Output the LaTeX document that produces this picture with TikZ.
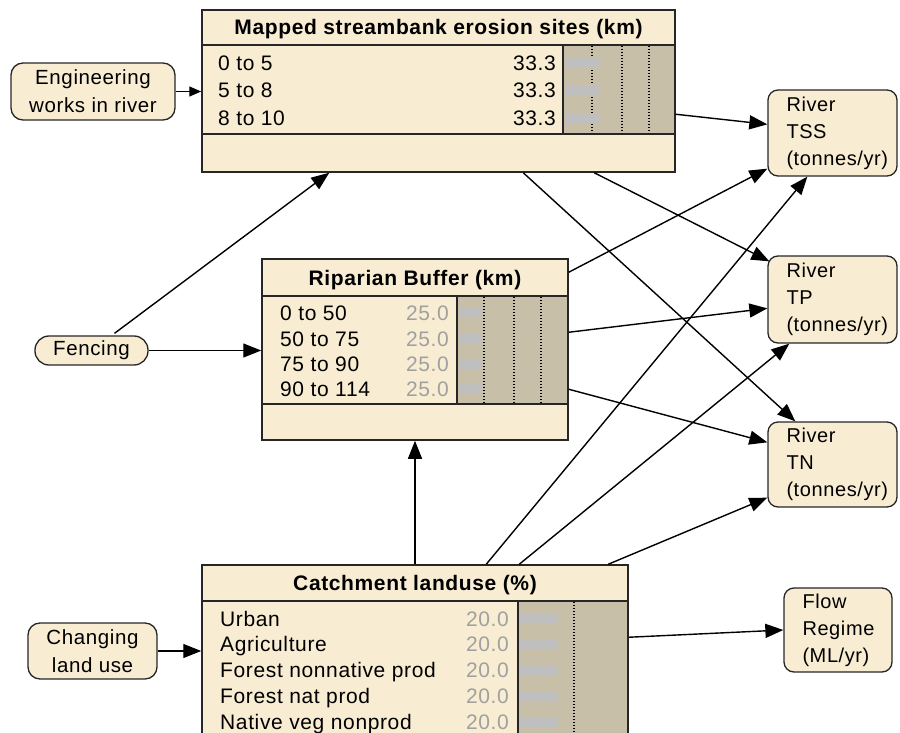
\documentclass[tikz,border=0pt]{standalone}
\usepackage{fontspec}
\setmainfont{Liberation Sans}[LetterSpace=3]
\usetikzlibrary{arrows.meta,calc,positioning}
\definecolor{nodefill}{HTML}{F8EDD3}
\definecolor{barbg}{HTML}{C8BFA8}
\definecolor{barfg}{HTML}{BFBFBF}
\definecolor{valgrey}{HTML}{A0A0A0}
\definecolor{edge}{HTML}{262626}
\tikzset{
  tablebox/.style={draw=edge, line width=1.5pt, fill=nodefill, inner sep=0pt},
  rowline/.style={draw=edge, line width=2pt},
  gridline/.style={draw=black, line width=1.4pt, dash pattern=on 1.4pt off 1.6pt},
  titletext/.style={inner sep=0pt, text height=15pt, text depth=0pt, font=\fontsize{21}{25}\selectfont\bfseries},
  rowtext/.style={inner sep=0pt, text height=15pt, text depth=0pt, font=\fontsize{21}{25}\selectfont},
  rowval/.style={rowtext, text=valgrey},
  leafnode/.style={draw=edge, line width=1.3pt, fill=nodefill, rounded corners=10pt,
    align=left, text width=92pt, inner xsep=18.5pt, font=\fontsize{20}{27}\selectfont},
  sourcenode/.style={draw=edge, line width=1.3pt, fill=nodefill, rounded corners=12pt,
    align=center, font=\fontsize{20.5}{28}\selectfont},
  link/.style={draw=black, line width=1.4pt, -{Triangle[length=18pt,width=14pt]}},
}
\begin{document}
\begin{tikzpicture}[x=1pt, y=-1pt]
  \useasboundingbox (0,0) rectangle (900,733);
  \clip (0,0) rectangle (900,733);
  % tables
  \node[tablebox, minimum width=473pt, minimum height=162pt] (mapped) at (438.5,91) {};
  \node[tablebox, minimum width=306pt, minimum height=181pt] (buffer) at (415,349.5) {};
  \node[tablebox, minimum width=426pt, minimum height=190pt] (landuse) at (415,660) {};

  % mapped streambank erosion sites
  \draw[rowline] (202,45) -- (676,45);
  \draw[rowline] (202,134) -- (676,134);
  \draw[rowline, fill=barbg] (563,45) rectangle (675,134);
  \draw[gridline] (592,46) -- (592,133);
  \draw[gridline] (622,46) -- (622,133);
  \draw[gridline] (649,46) -- (649,133);
  \fill[barfg] (565,58) rectangle (599,68);
  \fill[barfg] (565,85) rectangle (599,95);
  \fill[barfg] (565,113) rectangle (599,123);
  \node[titletext] (mtitle) at (438.5,27.5) {Mapped streambank erosion sites (km)};
  \node[rowtext, anchor=west] (m1) at (218,63) {0 to 5};
  \node[rowtext, anchor=west] (m2) at (218,90) {5 to 8};
  \node[rowtext, anchor=west] (m3) at (218,118) {8 to 10};
  \node[rowtext, anchor=east] (mv1) at (556,63) {33.3};
  \node[rowtext, anchor=east] (mv2) at (556,90) {33.3};
  \node[rowtext, anchor=east] (mv3) at (556,118) {33.3};

  % riparian buffer
  \draw[rowline] (262,296) -- (569,296);
  \draw[rowline] (262,404) -- (569,404);
  \draw[rowline, fill=barbg] (457,296) rectangle (568,404);
  \draw[gridline] (484,297) -- (484,403);
  \draw[gridline] (514,297) -- (514,403);
  \draw[gridline] (541,297) -- (541,403);
  \fill[barfg] (459,308) rectangle (482,318);
  \fill[barfg] (459,334) rectangle (482,344);
  \fill[barfg] (459,359) rectangle (482,369);
  \fill[barfg] (459,384) rectangle (482,394);
  \node[titletext] (btitle) at (415,277.5) {Riparian Buffer (km)};
  \node[rowtext, anchor=west] (b1) at (280,313) {0 to 50};
  \node[rowtext, anchor=west] (b2) at (280,339) {50 to 75};
  \node[rowtext, anchor=west] (b3) at (280,364) {75 to 90};
  \node[rowtext, anchor=west] (b4) at (280,389) {90 to 114};
  \node[rowval, anchor=east] (bv1) at (449,313) {25.0};
  \node[rowval, anchor=east] (bv2) at (449,339) {25.0};
  \node[rowval, anchor=east] (bv3) at (449,364) {25.0};
  \node[rowval, anchor=east] (bv4) at (449,389) {25.0};

  % catchment landuse
  \draw[rowline] (202,601) -- (629,601);
  \draw[rowline, fill=barbg] (518,601) rectangle (628,760);
  \draw[gridline] (574,602) -- (574,760);
  \fill[barfg] (520,614) rectangle (558,624);
  \fill[barfg] (520,639) rectangle (558,649);
  \fill[barfg] (520,665) rectangle (558,675);
  \fill[barfg] (520,691) rectangle (558,701);
  \fill[barfg] (520,717) rectangle (558,727);
  \node[titletext] (ltitle) at (415,583) {Catchment landuse (\%)};
  \node[rowtext, anchor=west] (l1) at (220,619) {Urban};
  \node[rowtext, anchor=west] (l2) at (220,644) {Agriculture};
  \node[rowtext, anchor=west] (l3) at (220,670) {Forest nonnative prod};
  \node[rowtext, anchor=west] (l4) at (220,696) {Forest nat prod};
  \node[rowtext, anchor=west] (l5) at (220,722) {Native veg nonprod};
  \node[rowval, anchor=east] (lv1) at (509,619) {20.0};
  \node[rowval, anchor=east] (lv2) at (509,644) {20.0};
  \node[rowval, anchor=east] (lv3) at (509,670) {20.0};
  \node[rowval, anchor=east] (lv4) at (509,696) {20.0};
  \node[rowval, anchor=east] (lv5) at (509,722) {20.0};

  % inputs
  \node[sourcenode, minimum width=164pt, minimum height=57pt] (eng) at (93,91.5) {Engineering\\works in river};
  \node[sourcenode, minimum width=113pt, minimum height=29pt, rounded corners=14pt] (fence) at (91.5,350.5) {Fencing};
  \node[sourcenode, minimum width=129pt, minimum height=56pt] (change) at (92.5,651) {Changing\\land use};

  % outputs
  \node[leafnode, minimum width=129pt, minimum height=86pt] (tss) at (832.5,133) {River\\TSS\\(tonnes/yr)};
  \node[leafnode, minimum width=129pt, minimum height=87pt] (tp) at (832.5,299.5) {River\\TP\\(tonnes/yr)};
  \node[leafnode, minimum width=129pt, minimum height=85pt] (tn) at (832.5,464.5) {River\\TN\\(tonnes/yr)};
  \node[leafnode, minimum width=108pt, minimum height=84pt, text width=71pt] (flow) at (838,630) {Flow\\Regime\\(ML/yr)};

  % links
  \draw[link, -{Triangle[length=12pt,width=10pt]}] (eng.east) -- (eng.east -| mapped.west);
  \draw[link] ($(fence.north)+(23,-2)$) -- ($(mapped.south west)+(128,0)$);
  \draw[link] (fence.east) -- (fence.east -| buffer.west);
  \draw[link] (change.east) -- (change.east -| landuse.west);
  \draw[link] (landuse.north) -- (buffer.south);
  \draw[link] ($(landuse.north west)+(285,0)$) -- ($(tss.south west)+(40,0)$);
  \draw[link] ($(landuse.north west)+(318,0)$) -- ($(tp.south west)+(22,0)$);
  \draw[link] ($(landuse.north west)+(407,0)$) -- ($(tn.south west)+(0,-10)$);
  \draw[link] ($(landuse.north east)+(0,73)$) -- (flow.west);
  \draw[link] ($(mapped.north east)+(0,105)$) -- ($(tss.north west)+(0,35)$);
  \draw[link] ($(mapped.south west)+(393,0)$) -- ($(tp.north west)+(2,6)$);
  \draw[link] ($(mapped.south west)+(322,0)$) -- ($(tn.north west)+(28,0)$);
  \draw[link] ($(buffer.north east)+(0,14)$) -- ($(tss.south west)+(0,-8)$);
  \draw[link] ($(buffer.north east)+(0,74)$) -- ($(tp.north west)+(0,53)$);
  \draw[link] ($(buffer.north east)+(0,131)$) -- ($(tn.north west)+(0,21)$);
\end{tikzpicture}
\end{document}
